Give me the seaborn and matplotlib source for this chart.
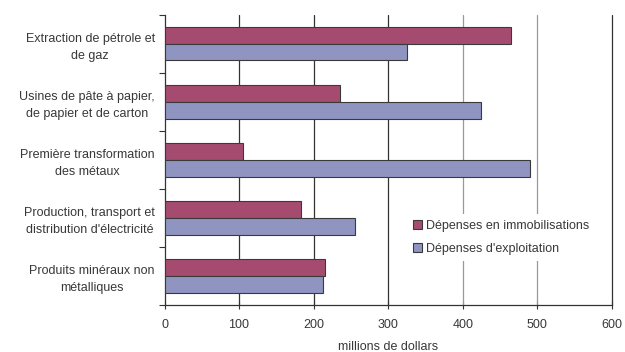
import matplotlib
matplotlib.use("Agg")
import matplotlib.pyplot as plt
import seaborn as sns
import pandas as pd
from matplotlib.patches import Patch

# Industries (top to bottom) and spending in millions of dollars
industries = [
    "Extraction de pétrole et\nde gaz",
    "Usines de pâte à papier,\nde papier et de carton",
    "Première transformation\ndes métaux",
    "Production, transport et\ndistribution d'électricité",
    "Produits minéraux non\nmétalliques",
]
immobilisations = [465, 235, 105, 183, 215]
exploitation = [325, 425, 490, 256, 213]
series = ["Dépenses en immobilisations", "Dépenses d'exploitation"]
x_ticks = [0, 100, 200, 300, 400, 500, 600]
x_label = "millions de dollars"

colors = {series[0]: "#A64B70", series[1]: "#8F94C1"}
text_color = "#383838"
fs = 9

df = pd.DataFrame({
    "industrie": industries * 2,
    "valeur": immobilisations + exploitation,
    "serie": [series[0]] * len(industries) + [series[1]] * len(industries),
})

sns.set_theme(style="white")
plt.rcParams["font.family"] = ["Liberation Sans", "DejaVu Sans"]
plt.rcParams["font.size"] = fs

fig = plt.figure(figsize=(6.25, 3.52), dpi=100)
ax = fig.add_axes([0.2632, 0.1335, 0.7157, 0.825])

sns.barplot(
    data=df, y="industrie", x="valeur", hue="serie", hue_order=series,
    order=industries, palette=colors, orient="h", width=0.58, gap=0,
    edgecolor="#3a3a3a", linewidth=0.8, saturation=1, legend=False, ax=ax,
    zorder=3,
)

# vertical gridlines
for t in x_ticks[1:]:
    ax.axvline(t, color="#333333" if t <= 300 or t == 600 else "#999999",
               linewidth=0.9, zorder=1, clip_on=False)

ax.set_xlim(0, 600)
ax.set_ylim(len(industries) - 0.5, -0.5)
ax.set_xticks(x_ticks)
ax.set_xticklabels([str(t) for t in x_ticks], color=text_color, fontsize=fs)
ax.set_xlabel(x_label, color=text_color, fontsize=fs, labelpad=7)
ax.set_ylabel("")

ax.set_yticks(range(len(industries)))
ax.set_yticklabels(industries, color=text_color, fontsize=fs)
for lbl in ax.get_yticklabels():
    lbl.set_multialignment("center")
    lbl.set_linespacing(1.5)
ax.set_yticks([i - 0.5 for i in range(len(industries) + 1)], minor=True)
ax.tick_params(axis="y", which="major", length=0, pad=7)
ax.tick_params(axis="y", which="minor", length=4, width=0.8, color="#333333",
               direction="out", left=True)
ax.tick_params(axis="x", which="major", length=6, width=0.8, color="#333333",
               direction="inout", bottom=True, pad=7)

for side in ["top", "right"]:
    ax.spines[side].set_visible(False)
for side in ["left", "bottom"]:
    ax.spines[side].set_color("#333333")
    ax.spines[side].set_linewidth(0.9)

handles = [Patch(facecolor=colors[s], edgecolor="#3a3a3a", linewidth=0.8, label=s)
           for s in series]
leg = ax.legend(handles=handles, loc="upper left",
                bbox_to_anchor=(0.528, 0.335), frameon=True, facecolor="white",
                edgecolor="none", fancybox=False, framealpha=1,
                handlelength=0.7, handleheight=0.7, handletextpad=0.3,
                labelspacing=0.85, borderpad=0.5, fontsize=fs)
for txt in leg.get_texts():
    txt.set_color(text_color)

fig.savefig("out.png", dpi=100)
